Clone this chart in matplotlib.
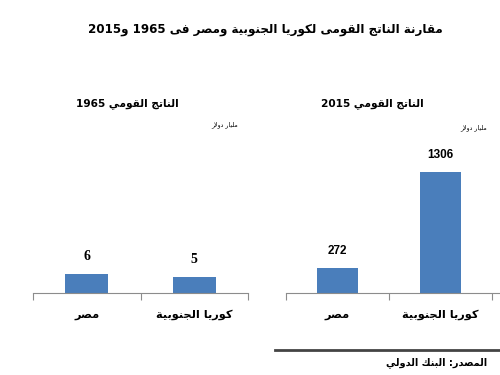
import matplotlib
matplotlib.use("Agg")
import matplotlib.pyplot as plt

W, H = 500, 375

# data
categories = ["مصر", "كوريا الجنوبية"]
gdp_1965 = [6, 5]
gdp_2015 = [272, 1306]

title = "مقارنة الناتج القومى لكوريا الجنوبية ومصر فى 1965 و2015"
panel_titles = ["الناتج القومي 1965", "الناتج القومي 2015"]
unit = "مليار دولار"
source = "المصدر: البنك الدولي"

BAR = "#4a7ebb"
AXIS = "#8c8c8c"

# minimal arabic shaping (matplotlib has no shaping / bidi)
DUAL = {'ب': 0xFE8F, 'ت': 0xFE95, 'ث': 0xFE99, 'ج': 0xFE9D, 'ح': 0xFEA1, 'خ': 0xFEA5,
        'س': 0xFEB1, 'ش': 0xFEB5, 'ص': 0xFEB9, 'ض': 0xFEBD, 'ط': 0xFEC1, 'ظ': 0xFEC5,
        'ع': 0xFEC9, 'غ': 0xFECD, 'ف': 0xFED1, 'ق': 0xFED5, 'ك': 0xFED9, 'ل': 0xFEDD,
        'م': 0xFEE1, 'ن': 0xFEE5, 'ه': 0xFEE9, 'ي': 0xFEF1, 'ئ': 0xFE89}
RIGHT = {'ا': 0xFE8D, 'أ': 0xFE83, 'إ': 0xFE87, 'آ': 0xFE81, 'د': 0xFEA9, 'ذ': 0xFEAB,
         'ر': 0xFEAD, 'ز': 0xFEAF, 'و': 0xFEED, 'ة': 0xFE93, 'ى': 0xFEEF, 'ؤ': 0xFE85}
LAM_ALEF = {'ا': 0xFEFB, 'أ': 0xFEF7, 'إ': 0xFEF9, 'آ': 0xFEF5}


def shape(text):
    chars = []
    i = 0
    while i < len(text):
        if text[i] == 'ل' and i + 1 < len(text) and text[i + 1] in LAM_ALEF:
            chars.append(('LA', text[i + 1]))
            i += 2
        else:
            chars.append(text[i])
            i += 1

    def joins_prev(c):
        return isinstance(c, tuple) or c in DUAL or c in RIGHT

    out = []
    for k, c in enumerate(chars):
        prev = chars[k - 1] if k > 0 else None
        nxt = chars[k + 1] if k + 1 < len(chars) else None
        link_prev = isinstance(prev, str) and prev in DUAL and joins_prev(c)
        link_next = isinstance(c, str) and c in DUAL and nxt is not None and joins_prev(nxt)
        if isinstance(c, tuple):
            out.append(chr(LAM_ALEF[c[1]] + (1 if link_prev else 0)))
        elif c in DUAL:
            off = 3 if (link_prev and link_next) else 1 if link_prev else 2 if link_next else 0
            out.append(chr(DUAL[c] + off))
        elif c in RIGHT:
            out.append(chr(RIGHT[c] + (1 if link_prev else 0)))
        else:
            out.append(c)
    return ''.join(out)


def ar(text):
    shaped = shape(text)
    words = shaped.split(' ')[::-1]
    res = []
    for w in words:
        runs = []
        for ch in w:
            d = ch.isdigit()
            if runs and runs[-1][0] == d:
                runs[-1][1] += ch
            else:
                runs.append([d, ch])
        res.append(''.join(r if d else r[::-1] for d, r in runs[::-1]))
    return ' '.join(res)


fig = plt.figure(figsize=(W / 100, H / 100), dpi=100)
fig.patch.set_facecolor("white")


def fx(x):
    return x / W


def fy(y):
    return 1 - y / H


AR_FONT = "DejaVu Sans"

fig.text(fx(265), fy(30), ar(title), ha="center", va="center", fontsize=8.6,
         fontweight="bold", family=AR_FONT)


def panel(x0, x1, xmax, values, ymax, label_font, label_size, title_txt, title_x, unit_x, unit_y):
    ax = fig.add_axes([fx(x0), fy(293), fx(x1) - fx(x0), (293 - 150) / H])
    pos = list(range(len(categories)))
    ax.bar(pos, values, width=0.4, color=BAR, zorder=2)
    ax.set_xlim(-0.5, xmax)
    ax.set_ylim(0, ymax)
    for s in ["top", "right", "left"]:
        ax.spines[s].set_visible(False)
    ax.spines["bottom"].set_color(AXIS)
    ax.spines["bottom"].set_linewidth(0.8)
    ax.set_yticks([])
    ax.set_xticks([-0.5, 0.5, 1.5], minor=True)
    ax.set_xticks(pos)
    ax.set_xticklabels([ar(c) for c in categories], fontsize=8.2, fontweight="bold",
                       family=AR_FONT)
    ax.tick_params(axis="x", which="major", length=0, pad=12)
    ax.tick_params(axis="x", which="minor", length=5, color=AXIS, width=0.8)
    ax.patch.set_alpha(0)
    for p, v in zip(pos, values):
        ax.annotate(str(v), (p, v), xytext=(0, 8), textcoords="offset points",
                    ha="center", va="bottom", fontsize=label_size, fontweight="bold",
                    family=label_font)
    fig.text(fx(title_x), fy(104), ar(title_txt), ha="center", va="center",
             fontsize=7.6, fontweight="bold", family=AR_FONT)
    fig.text(fx(unit_x), fy(unit_y), ar(unit), ha="center", va="center",
             fontsize=4.5, family=AR_FONT)
    return ax


panel(33, 248, 1.5, gdp_1965, 45.2, "Liberation Serif", 10, panel_titles[0], 127, 225, 125)
panel(286, 500, 1.58, gdp_2015, 1543, "Liberation Sans", 8.5, panel_titles[1], 372, 474, 128)

fig.add_artist(plt.Line2D([fx(275), fx(500)], [fy(350), fy(350)], color="#444444",
                          linewidth=2, transform=fig.transFigure))
fig.text(fx(487), fy(363), ar(source), ha="right", va="center", fontsize=7,
         fontweight="bold", family=AR_FONT)

fig.savefig("out.png", dpi=100, facecolor="white")
